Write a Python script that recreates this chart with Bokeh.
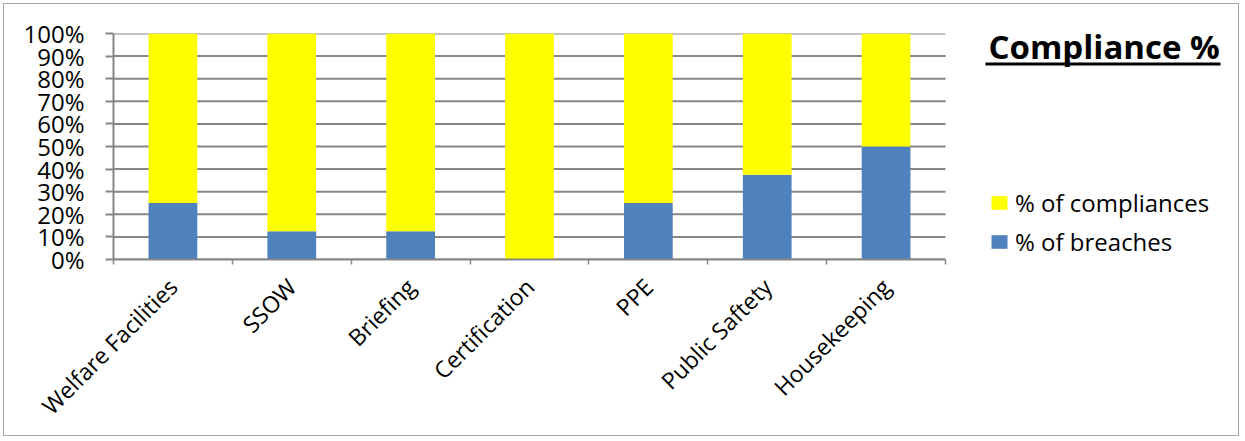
from math import pi

from bokeh.embed import file_html
from bokeh.models import (BoxAnnotation, FixedTicker, Label, Legend, LegendItem,
                          PrintfTickFormatter, Range1d)
from bokeh.plotting import figure
from bokeh.resources import INLINE

# --- data -----------------------------------------------------------------
categories = ["Welfare Facilities", "SSOW", "Briefing", "Certification",
              "PPE", "Public Saftety", "Housekeeping"]
breaches = [25.0, 12.5, 12.5, 0.0, 25.0, 37.5, 50.0]
compliances = [100.0 - b for b in breaches]
y_ticks = [0, 10, 20, 30, 40, 50, 60, 70, 80, 90, 100]

FONT = "Open Sans"
GREY = "#868686"
BLUE = "#4F81BD"
YELLOW = "#FFFF00"

# canvas layout (px)
W, H = 1236, 433
LEFT, TOP, BOTTOM = 109, 29, 178
AXIS_SPAN = 832          # width taken by the category axis

n = len(categories)
centers = [i + 0.5 for i in range(n)]
bounds = [float(i) for i in range(n + 1)]
frame_w = W - LEFT
x_end = n * frame_w / AXIS_SPAN   # leaves room on the right for the key

p = figure(width=W, height=H, output_backend="svg", toolbar_location=None,
           x_range=Range1d(0, x_end), y_range=Range1d(0, 100),
           min_border_left=LEFT, min_border_right=0,
           min_border_top=TOP, min_border_bottom=BOTTOM)
p.margin = (3, 0, 0, 3)
p.styles = {"border": "1px solid #a6a6a6"}
p.outline_line_color = None
p.background_fill_color = "white"
p.border_fill_color = "white"
p.xgrid.grid_line_color = None
p.ygrid.grid_line_color = None

# horizontal gridlines across the category area only
p.segment(x0=[0] * len(y_ticks), x1=[n] * len(y_ticks), y0=y_ticks, y1=y_ticks,
          line_color=GREY, line_width=2, level="underlay")

data = dict(x=centers, breaches=breaches, compliances=compliances)
renderers = p.vbar_stack(["breaches", "compliances"], x="x", width=0.41,
                         source=data, color=[BLUE, YELLOW], line_color=None)

# x axis: labels at category centres, short ticks at category boundaries
xa = p.xaxis[0]
xa.bounds = (0, n)
xa.ticker = FixedTicker(ticks=centers, minor_ticks=bounds)
xa.major_label_overrides = {c: name for c, name in zip(centers, categories)}
xa.major_label_orientation = pi / 4
xa.major_tick_out = 0
xa.major_tick_in = 0
xa.minor_tick_out = 5
xa.minor_tick_in = 0
xa.minor_tick_line_color = GREY
xa.minor_tick_line_width = 1.5
xa.axis_line_color = GREY
xa.axis_line_width = 2
xa.major_label_text_font = FONT
xa.major_label_text_font_size = "23px"
xa.major_label_text_color = "black"
xa.major_label_standoff = 18

ya = p.yaxis[0]
ya.ticker = FixedTicker(ticks=y_ticks)
ya.formatter = PrintfTickFormatter(format="%d%%")
ya.major_tick_out = 8
ya.major_tick_in = 0
ya.major_tick_line_color = GREY
ya.major_tick_line_width = 2
ya.minor_tick_line_color = None
ya.axis_line_color = GREY
ya.axis_line_width = 2
ya.major_label_text_font = FONT
ya.major_label_text_font_size = "24px"
ya.major_label_text_color = "black"
ya.major_label_standoff = 21

legend = Legend(items=[LegendItem(label="% of compliances", renderers=[renderers[1]]),
                       LegendItem(label="% of breaches", renderers=[renderers[0]])],
                location=(876, 1), orientation="vertical",
                glyph_width=20, glyph_height=17, label_height=17, spacing=6,
                label_standoff=6, padding=0, margin=0,
                border_line_color=None, background_fill_alpha=0,
                label_text_font=FONT, label_text_font_size="24px",
                label_text_color="black")
p.add_layout(legend)

# chart heading with underline
p.add_layout(Label(x=875, y=213, x_units="screen", y_units="screen",
                   text="Compliance %", text_font=FONT, text_color="black",
                   text_font_size="33px", text_font_style="bold",
                   text_baseline="alphabetic", text_align="left"))
p.add_layout(BoxAnnotation(left=872, right=1107, bottom=194, top=197,
                           left_units="screen", right_units="screen",
                           bottom_units="screen", top_units="screen",
                           fill_color="black", fill_alpha=1, line_color=None))

open("out.html", "w").write(file_html(p, INLINE))
